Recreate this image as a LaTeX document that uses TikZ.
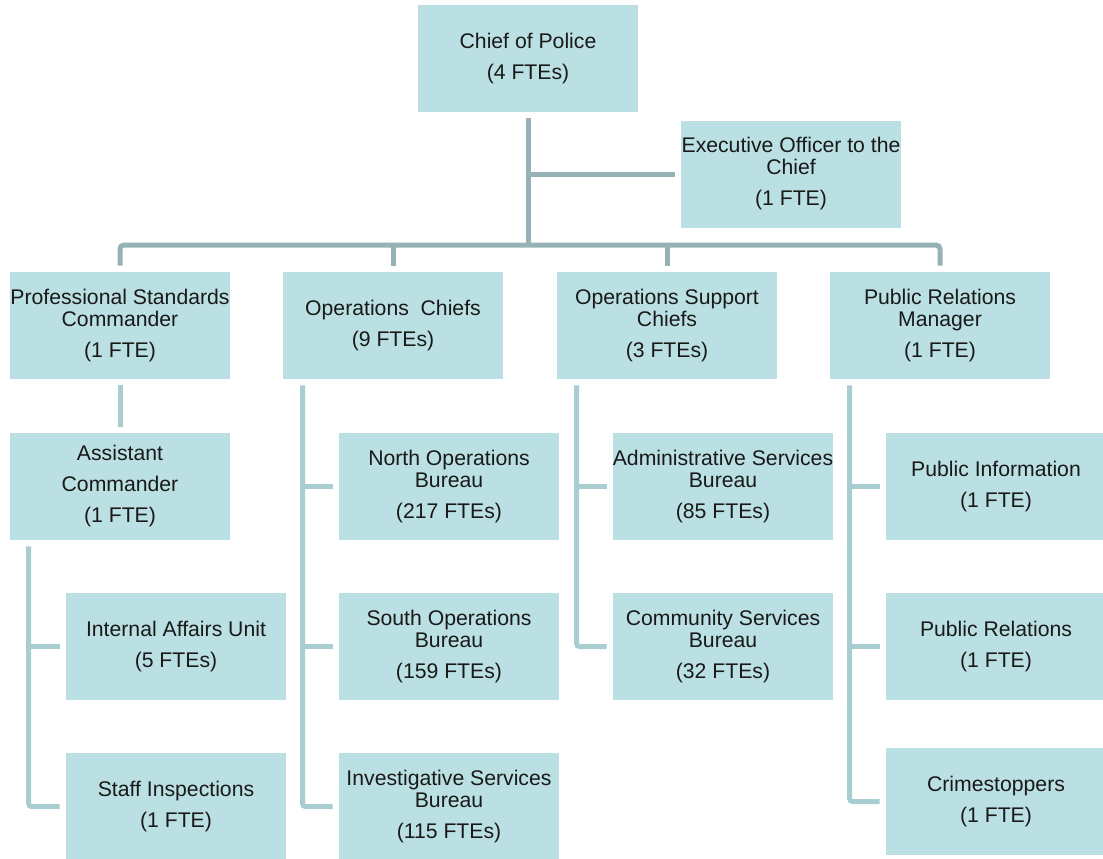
\documentclass[tikz,border=0pt]{standalone}
\usepackage{fontspec}
\setmainfont{Liberation Sans}
\definecolor{boxfill}{HTML}{BBE0E3}
\definecolor{trunk}{HTML}{95B3B7}
\definecolor{branch}{HTML}{A9CED2}
\tikzset{
  unit/.style={fill=boxfill, minimum width=165pt, minimum height=80.25pt, inner sep=0pt,
    align=center, text=black!90, font=\fontsize{15.9}{16.5}\selectfont},
  trunkline/.style={draw=trunk, line width=3.75pt},
  branchline/.style={draw=branch, line width=3.75pt},
}
\begin{document}
\begin{tikzpicture}[x=0.75pt, y=-0.75pt]
\useasboundingbox (0,0) rectangle (1103,858);

\node[unit] (chief) at (528,58.5) {Chief of Police\\[6.75pt](4 FTEs)};
\node[unit] (exec) at (791,174) {Executive Officer to the\\Chief\\[6.75pt](1 FTE)};

\node[unit] (stds) at (120,325.5) {Professional Standards\\Commander\\[6.75pt](1 FTE)};
\node[unit] (ops) at (393,325.5) {Operations\ \ Chiefs\\[6.75pt](9 FTEs)};
\node[unit] (opsup) at (667,325.5) {Operations Support\\Chiefs\\[6.75pt](3 FTEs)};
\node[unit] (pubrel) at (940,325.5) {Public Relations\\Manager\\[6.75pt](1 FTE)};

\node[unit] (asst) at (120,486.5) {Assistant\\[6.75pt]Commander\\[6.75pt](1 FTE)};
\node[unit] (intaff) at (176,646.5) {Internal Affairs Unit\\[6.75pt](5 FTEs)};
\node[unit] (staff) at (176,806.5) {Staff Inspections\\[6.75pt](1 FTE)};

\node[unit] (north) at (449,486.5) {North Operations\\Bureau\\[6.75pt](217 FTEs)};
\node[unit] (south) at (449,646.5) {South Operations\\Bureau\\[6.75pt](159 FTEs)};
\node[unit] (invest) at (449,806.5) {Investigative Services\\Bureau\\[6.75pt](115 FTEs)};

\node[unit] (admin) at (723,486.5) {Administrative Services\\Bureau\\[6.75pt](85 FTEs)};
\node[unit] (commsvc) at (723,646.5) {Community Services\\Bureau\\[6.75pt](32 FTEs)};

\node[unit] (pubinfo) at (996,486.5) {Public Information\\[6.75pt](1 FTE)};
\node[unit] (pubrelu) at (996,646.5) {Public Relations\\[6.75pt](1 FTE)};
\node[unit] (crime) at (996,801.5) {Crimestoppers\\[6.75pt](1 FTE)};

% top level
\coordinate (bus) at (528,245);
\draw[trunkline, shorten <=4.5pt] (chief) -- (bus);
\draw[trunkline, shorten <=4.5pt] (exec) -- (exec -| bus);
\draw[trunkline, rounded corners=3pt, shorten <=4.5pt, shorten >=4.5pt] (stds) |- (bus) -| (pubrel);
\draw[trunkline, shorten <=4.5pt] (ops) -- (ops |- bus);
\draw[trunkline, shorten <=4.5pt] (opsup) -- (opsup |- bus);

% branches
\draw[branchline, shorten <=4.5pt, shorten >=4.5pt] (stds) -- (asst);

\coordinate (asst spine) at ([xshift=14.25pt, yshift=-4.5pt]asst.south west);
\draw[branchline, rounded corners=2pt, shorten >=4.5pt] (asst spine) |- (staff);
\draw[branchline, shorten <=4.5pt] (intaff) -- (intaff -| asst spine);

\coordinate (ops spine) at ([xshift=15pt, yshift=-4.5pt]ops.south west);
\draw[branchline, rounded corners=2pt, shorten >=4.5pt] (ops spine) |- (invest);
\draw[branchline, shorten <=4.5pt] (north) -- (north -| ops spine);
\draw[branchline, shorten <=4.5pt] (south) -- (south -| ops spine);

\coordinate (opsup spine) at ([xshift=15pt, yshift=-4.5pt]opsup.south west);
\draw[branchline, rounded corners=2pt, shorten >=4.5pt] (opsup spine) |- (commsvc);
\draw[branchline, shorten <=4.5pt] (admin) -- (admin -| opsup spine);

\coordinate (pubrel spine) at ([xshift=15pt, yshift=-4.5pt]pubrel.south west);
\draw[branchline, rounded corners=2pt, shorten >=4.5pt] (pubrel spine) |- (crime);
\draw[branchline, shorten <=4.5pt] (pubinfo) -- (pubinfo -| pubrel spine);
\draw[branchline, shorten <=4.5pt] (pubrelu) -- (pubrelu -| pubrel spine);
\end{tikzpicture}
\end{document}
